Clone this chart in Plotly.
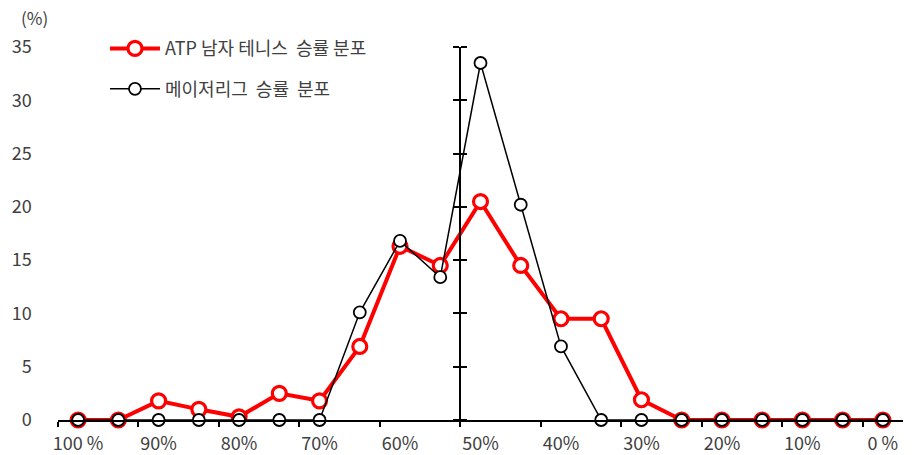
import plotly.graph_objects as go

# Win-rate buckets from 100% down to 0% in 5% steps
buckets = ["100%", "95%", "90%", "85%", "80%", "75%", "70%", "65%", "60%", "55%",
           "50%", "45%", "40%", "35%", "30%", "25%", "20%", "15%", "10%", "5%", "0%"]
tick_labels = ["100 %", "90%", "80%", "70%", "60%", "50%", "40%", "30%", "20%", "10%", "0 %"]

# Share of players / teams in each bucket (%)
atp_share = [0.0, 0.0, 1.8, 1.0, 0.3, 2.5, 1.8, 6.9, 16.3, 14.5,
             20.5, 14.5, 9.5, 9.5, 1.9, 0.0, 0.0, 0.0, 0.0, 0.0, 0.0]
mlb_share = [0.0, 0.0, 0.0, 0.0, 0.0, 0.0, 0.0, 10.1, 16.8, 13.4,
             33.5, 20.2, 6.9, 0.0, 0.0, 0.0, 0.0, 0.0, 0.0, 0.0, 0.0]

y_ticks = [0, 5, 10, 15, 20, 25, 30, 35]

FONT = "Noto Sans CJK KR, Noto Sans, sans-serif"
TEXT = "#404040"
FS = 18

W, H = 915, 455
ML, MR, MT, MB = 58, 12, 47, 35

idx = list(range(len(buckets)))

fig = go.Figure()
fig.add_trace(go.Scatter(
    x=idx, y=atp_share, mode="lines+markers", yaxis="y",
    name="ATP 남자 테니스\u00a0 승률 분포", legendgroup="atp",
    line=dict(color="#FF0000", width=4),
    marker=dict(symbol="circle", size=14, color="white",
                line=dict(color="#FF0000", width=3.2)),
    cliponaxis=False,
))
# overlay axis (right-facing ticks) carries the black series, drawn on top
fig.add_trace(go.Scatter(
    x=idx, y=mlb_share, mode="lines+markers", yaxis="y2",
    name="메이저리그\u00a0 승률\u00a0 분포", legendgroup="mlb",
    line=dict(color="black", width=1.5),
    marker=dict(symbol="circle", size=12, color="white",
                line=dict(color="black", width=1.8)),
    cliponaxis=False,
))

n = len(buckets)
x_range = [-0.5, n - 0.5]
# the value axis crosses the category axis between 55% and 50%
cross_pos = (9.5 - x_range[0]) / (x_range[1] - x_range[0])
plot_w = W - ML - MR
# value labels stay at the far left while the axis line sits at the crossing
label_right_edge = 36
standoff = int(round(ML + cross_pos * plot_w - label_right_edge - 6))

fig.update_layout(
    width=W, height=H,
    margin=dict(l=ML, r=MR, t=MT, b=MB),
    paper_bgcolor="white", plot_bgcolor="white",
    font=dict(family=FONT, size=FS, color=TEXT),
    showlegend=True,
    legend=dict(
        x=0.0556, y=1.045, xanchor="left", yanchor="top",
        bgcolor="rgba(0,0,0,0)", font=dict(size=FS, color=TEXT),
        tracegroupgap=14, itemwidth=50,
    ),
    xaxis=dict(
        range=x_range, showgrid=False, zeroline=False, automargin=False,
        showline=True, linecolor="black", linewidth=2,
        tickmode="array", tickvals=idx[::2], ticktext=tick_labels,
        ticks="outside", ticklen=0, ticklabelstandoff=6,
        tickfont=dict(size=FS, color=TEXT),
        minor=dict(tick0=-0.5, dtick=2, ticks="outside", ticklen=5,
                   tickwidth=1.5, tickcolor="black"),
    ),
    yaxis=dict(
        range=[0, 35], anchor="free", position=cross_pos, side="left",
        showgrid=False, zeroline=False, automargin=False,
        showline=True, linecolor="black", linewidth=2,
        tickmode="array", tickvals=y_ticks, ticks="outside",
        ticklen=6, tickwidth=1.5, tickcolor="black",
        ticklabelstandoff=standoff, tickfont=dict(size=FS, color=TEXT),
    ),
    yaxis2=dict(
        range=[0, 35], overlaying="y", anchor="free", position=cross_pos,
        side="right", showgrid=False, zeroline=False, showline=False,
        automargin=False, tickmode="array", tickvals=y_ticks,
        ticks="outside", ticklen=6, tickwidth=1.5, tickcolor="black",
        showticklabels=False,
    ),
    annotations=[dict(
        text="(%)", xref="paper", yref="paper", x=-0.028, y=1.08,
        xanchor="center", yanchor="middle", showarrow=False,
        font=dict(size=17, color=TEXT),
    )],
)

fig.write_html("out.html")
